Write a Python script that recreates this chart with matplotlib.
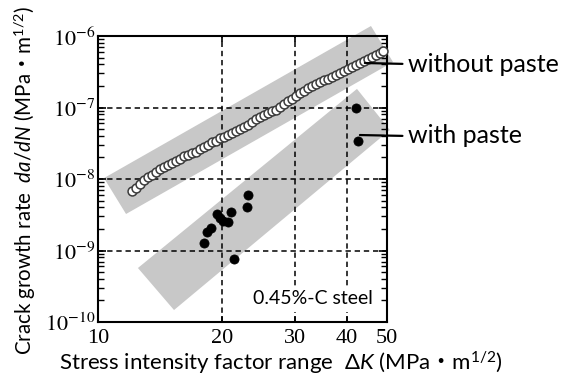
import numpy as np
import matplotlib
matplotlib.use('Agg')
import matplotlib.pyplot as plt
from matplotlib.patches import Polygon
from matplotlib.ticker import NullLocator, FixedLocator

plt.rcParams['mathtext.fontset'] = 'custom'
plt.rcParams['mathtext.rm'] = 'Lato'
plt.rcParams['mathtext.it'] = 'Lato:italic'
plt.rcParams['mathtext.bf'] = 'Lato:bold'
plt.rcParams['mathtext.sf'] = 'Noto Sans CJK JP'

# ---------------- data ----------------
# without paste (open circles)
dk_without = [12.09, 12.36, 12.64, 12.92, 13.21, 13.51, 13.81, 14.13, 14.44, 14.77, 15.10,
              15.44, 15.79, 16.14, 16.51, 16.88, 17.26, 17.65, 18.05, 18.45, 18.87,
              19.29, 19.73, 20.17, 20.63, 21.09, 21.57, 22.05, 22.55, 23.06, 23.58, 24.11,
              24.65, 25.21, 25.77, 26.35, 26.95, 27.55, 28.17, 28.81, 29.46, 30.12,
              30.80, 31.49, 32.20, 32.93, 33.67, 34.43, 35.20, 36.00, 36.81, 37.64, 38.49,
              39.35, 40.24, 41.14, 42.07, 43.02, 43.99, 44.98, 45.99, 47.03, 48.09, 48.90]
rate_without_e9 = [6.80, 7.48, 8.51, 9.68, 10.50, 11.37, 12.53, 13.58, 14.72, 15.70, 17.01,
                   17.85, 19.35, 20.64, 21.66, 23.10, 24.24, 25.86, 28.03, 30.37, 32.91,
                   34.55, 36.85, 38.67, 41.25, 43.99, 46.93, 50.04, 53.37, 56.91, 62.69, 67.96,
                   72.48, 77.30, 82.45, 87.95, 93.76, 101.6, 111.9, 123.3, 133.6, 144.8,
                   157.0, 170.1, 184.4, 199.8, 213.2, 223.7, 238.6, 250.4, 267.1, 284.8, 303.8,
                   324.0, 340.1, 368.5, 393.0, 419.2, 447.0, 476.9, 508.5, 542.4, 578.4, 626.9]

# with paste (filled circles)
dk_with = [23.01, 22.89, 21.01, 19.42, 19.72, 20.09, 20.63, 18.74, 18.40, 18.07, 21.30, 42.06, 42.46]
rate_with_e9 = [5.97, 4.10, 3.49, 3.21, 2.82, 2.61, 2.48, 2.04, 1.80, 1.27, 0.754, 97.5, 34.0]

# scatter bands (corner points, dK and da/dN)
band_upper_dk = [10.34, 45.73, 51.7, 11.69]
band_upper_rate = [1.03e-8, 1.38e-6, 4.33e-7, 3.24e-9]
band_lower_dk = [12.49, 42.3, 50.8, 15.27]
band_lower_rate = [5.69e-10, 1.82e-7, 4.84e-8, 1.47e-10]

x_ticks = [10, 20, 30, 40, 50]
x_ticklabels = ['10', '20', '30', '40', '50']
y_ticks = [1e-10, 1e-9, 1e-8, 1e-7, 1e-6]
y_ticklabels = [r'$10^{-10}$', r'$10^{-9}$', r'$10^{-8}$', r'$10^{-7}$', r'$10^{-6}$']

# ---------------- figure ----------------
W, H = 571, 379
fig = plt.figure(figsize=(W / 100, H / 100), dpi=100)
ax = fig.add_axes([98 / W, 1 - 322 / H, 289 / W, 286 / H])
ax.set_xscale('log')
ax.set_yscale('log')
ax.set_xlim(10, 50)
ax.set_ylim(1e-10, 1e-6)

band_color = '#c8c8c8'
for bx, by in [(band_upper_dk, band_upper_rate), (band_lower_dk, band_lower_rate)]:
    poly = Polygon(list(zip(bx, by)), closed=True, facecolor=band_color,
                   edgecolor='none', transform=ax.transData, clip_on=False, zorder=1)
    ax.add_patch(poly)

rate_without = np.array(rate_without_e9) * 1e-9
rate_with = np.array(rate_with_e9) * 1e-9
ax.plot(dk_without, rate_without, ls='none', marker='o', ms=6.4, mfc='white',
        mec='#3c3c3c', mew=1.1, zorder=3, clip_on=False)
ax.plot(dk_with, rate_with, ls='none', marker='o', ms=6.6, mfc='black',
        mec='black', mew=0.5, zorder=3)

# ticks
ax.xaxis.set_major_locator(FixedLocator(x_ticks))
ax.xaxis.set_minor_locator(NullLocator())
ax.set_xticks(x_ticks, x_ticklabels, fontfamily='Liberation Serif', fontsize=16)
ax.set_yticks(y_ticks, y_ticklabels, math_fontfamily='stix', fontsize=16)
ax.yaxis.set_minor_locator(FixedLocator(
    [m * 10.0 ** e for e in range(-10, -6) for m in range(2, 10)]))
ax.yaxis.set_minor_formatter(plt.NullFormatter())
ax.tick_params(axis='x', which='major', direction='in', length=4, width=1.2,
               top=True, bottom=True, pad=5)
ax.tick_params(axis='y', which='major', direction='in', length=6, width=1.2,
               left=True, right=True, pad=2)
ax.tick_params(axis='y', which='minor', direction='in', length=4, width=1.0,
               left=True, right=True)
for sp in ax.spines.values():
    sp.set_linewidth(1.5)
    sp.set_color('black')

ax.grid(True, which='major', color='black', lw=1.1, ls=(0, (3.5, 2.5)))

# text box
ax.text((373 - 98) / 289, (322 - 299) / 286, '0.45%-C steel', transform=ax.transAxes,
        ha='right', va='center', fontsize=14, family=['Lato', 'DejaVu Sans'],
        bbox=dict(facecolor='white', edgecolor='none', pad=3), zorder=4)

# leader labels
lab_font = ['Lato', 'Noto Sans CJK JP', 'DejaVu Sans']
ax.annotate('without paste', xy=(44.2, 4.19e-7), xycoords='data',
            xytext=(408 / W, 1 - 64 / H), textcoords='figure fraction',
            ha='left', va='center', fontsize=18, family=lab_font,
            arrowprops=dict(arrowstyle='-', lw=1.6, color='black',
                            relpos=(0, 0.5), shrinkA=2, shrinkB=0),
            annotation_clip=False, zorder=5)
ax.annotate('with paste', xy=(43.0, 4.12e-8), xycoords='data',
            xytext=(408 / W, 1 - 136 / H), textcoords='figure fraction',
            ha='left', va='center', fontsize=18, family=lab_font,
            arrowprops=dict(arrowstyle='-', lw=1.6, color='black',
                            relpos=(0, 0.5), shrinkA=2, shrinkB=0),
            annotation_clip=False, zorder=5)

# axis labels
fig.text(281 / W, 1 - 363 / H,
         'Stress intensity factor range  Δ$\\mathit{K}$ (MPa$\\mathsf{・}$m$^{1/2}$)',
         ha='center', va='center', fontsize=16, family=lab_font)
fig.text(25 / W, 1 - 180 / H,
         'Crack growth rate  $\\mathit{da/dN}$ (MPa$\\mathsf{・}$m$^{1/2}$)',
         ha='center', va='center', rotation=90, fontsize=14.8, family=lab_font)

fig.savefig('out.png', dpi=100)
